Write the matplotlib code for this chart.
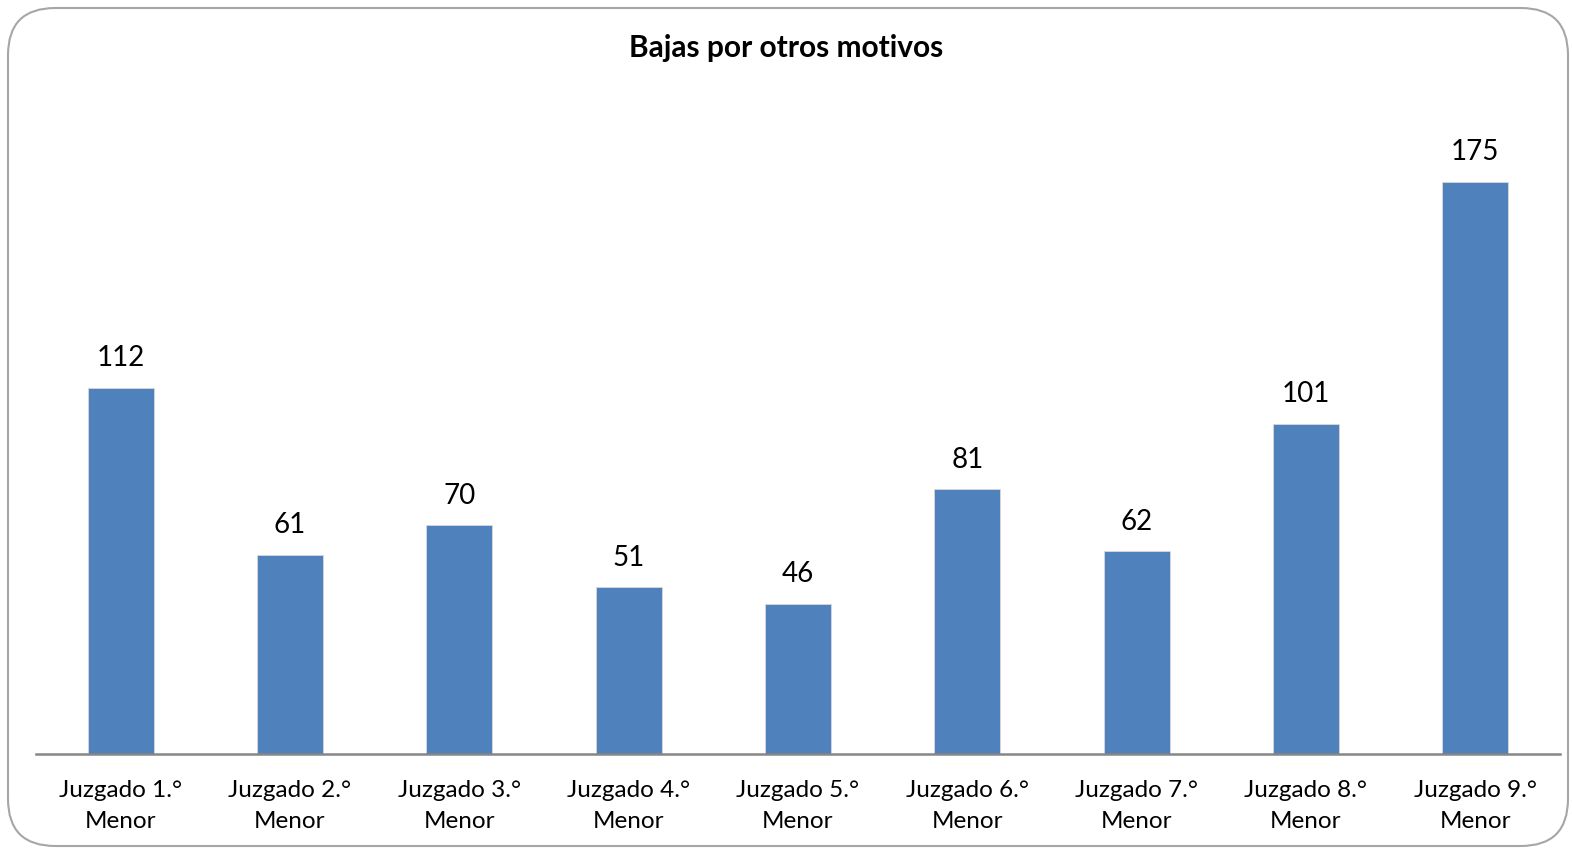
import matplotlib.pyplot as plt
from matplotlib.patches import FancyBboxPatch

# data
categories = ['Juzgado 1.°\nMenor', 'Juzgado 2.°\nMenor', 'Juzgado 3.°\nMenor',
              'Juzgado 4.°\nMenor', 'Juzgado 5.°\nMenor', 'Juzgado 6.°\nMenor',
              'Juzgado 7.°\nMenor', 'Juzgado 8.°\nMenor', 'Juzgado 9.°\nMenor']
values = [112, 61, 70, 51, 46, 81, 62, 101, 175]
title = 'Bajas por otros motivos'

plt.rcParams['font.family'] = ['Lato', 'DejaVu Sans']

W, H = 1572, 849
fig = plt.figure(figsize=(W / 100, H / 100), dpi=100)

# rounded chart border
border = FancyBboxPatch((8 / W, 3 / H), (W - 12) / W, (H - 11) / H,
                        boxstyle='round,pad=0,rounding_size=0.03',
                        transform=fig.transFigure, facecolor='none',
                        edgecolor='#a6a6a6', linewidth=1.5,
                        mutation_aspect=W / H, zorder=5)
fig.patches.append(border)

ax = fig.add_axes([36 / W, (H - 754) / H, (1560 - 36) / W, 654 / H])
ax.patch.set_alpha(0)

x = list(range(len(values)))
bars = ax.bar(x, values, width=0.39, color='#4f81bd', edgecolor='#d9d9d9',
              linewidth=0.6, zorder=2)

for xi, v in zip(x, values):
    ax.text(xi, v + 5, str(v), ha='center', va='bottom', fontsize=20, color='black')

ax.set_xlim(-0.5, len(values) - 0.5)
ax.set_ylim(0, 200)
ax.set_xticks(x)
ax.set_xticklabels(categories, fontsize=17.5, linespacing=1.55)
ax.tick_params(axis='x', length=0, pad=19)
ax.set_yticks([])
for s in ['top', 'right', 'left']:
    ax.spines[s].set_visible(False)
ax.spines['bottom'].set_color('#868686')
ax.spines['bottom'].set_linewidth(1.8)

fig.text(0.5, 1 - 48 / H, title, ha='center', va='center', fontsize=21.5,
         fontweight='bold')

fig.savefig('out.png', dpi=100)
